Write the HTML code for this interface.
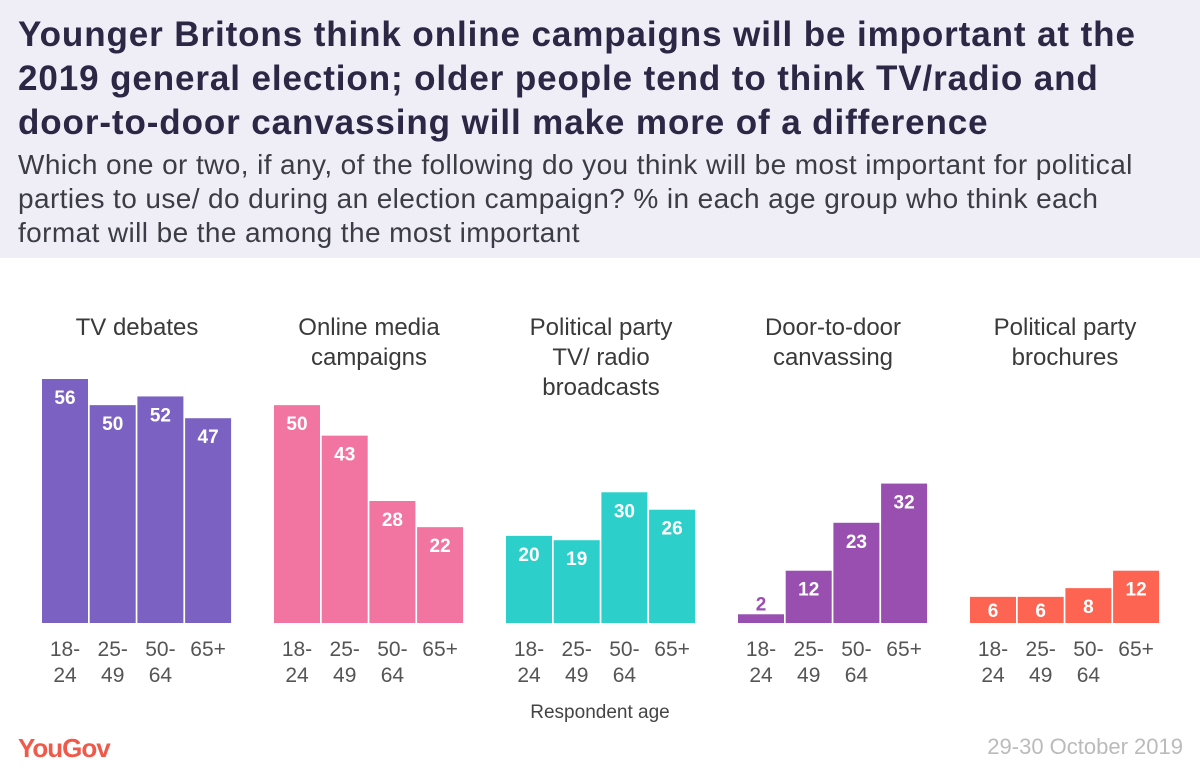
<!DOCTYPE html>
<html><head><meta charset="utf-8"><style>
body{margin:0;width:1200px;height:778px;background:#fff;font-family:"Liberation Sans",sans-serif;overflow:hidden}
#hdr{position:absolute;left:0;top:0;width:1200px;height:258px;background:#efedf6}
#title{position:absolute;left:18px;top:13px;font-size:35px;font-weight:bold;color:#2b2744;line-height:44px;letter-spacing:0.9px}
#sub{position:absolute;left:18px;top:148px;font-size:28px;color:#3c3c46;line-height:34px;letter-spacing:0.4px}
svg{position:absolute;left:0;top:0}
</style></head><body>
<div id="hdr"></div>
<div id="title">Younger Britons think online campaigns will be important at the<br>2019 general election; older people tend to think TV/radio and<br>door-to-door canvassing will make more of a difference</div>
<div id="sub">Which one or two, if any, of the following do you think will be most important for political<br>parties to use/ do during an election campaign? % in each age group who think each<br>format will be the among the most important</div>
<svg id="chart" width="1200" height="778"></svg>
<script>
const groups=[["TV debates"],["Online media","campaigns"],["Political party","TV/ radio","broadcasts"],["Door-to-door","canvassing"],["Political party","brochures"]];
const ages=[["18-","24"],["25-","49"],["50-","64"],["65+"]];
const tvDebates=[56,50,52,47];
const onlineMedia=[50,43,28,22];
const broadcasts=[20,19,30,26];
const canvassing=[2,12,23,32];
const brochures=[6,6,8,12];
const series=[tvDebates,onlineMedia,broadcasts,canvassing,brochures];
const colors=["#7b62c2","#f274a0","#2ccfca","#984fb0","#fd6552"];
const svg=document.getElementById('chart');const NS="http://www.w3.org/2000/svg";
const base=623,scale=244/56;
const y=v=>base-v*scale;
const gx=g=>42+g*232, bx=(g,i)=>gx(g)+i*47.7, bw=46;
function t(x,yy,s,attrs,name){const e=document.createElementNS(NS,'text');e.setAttribute('x',x);e.setAttribute('y',yy);for(const k in attrs)e.setAttribute(k,attrs[k]);e.textContent=s;


svg.appendChild(e);return e;}
series.forEach((vals,g)=>{
 const cx=gx(g)+95;
 groups[g].forEach((l,k)=>t(cx,335+k*30,l,{'text-anchor':'middle','font-size':'24','fill':'#3a3a3a'},'group-title'));
 vals.forEach((v,i)=>{
  const r=document.createElementNS(NS,'rect');const x=bx(g,i),top=y(v),h=base-top;
  r.setAttribute('x',x);r.setAttribute('y',top);r.setAttribute('width',bw);r.setAttribute('height',h);r.setAttribute('fill',colors[g]);
  
  
  svg.appendChild(r);
  let ly,fill='#fff';
  if(h>=34)ly=top+25;else if(h>=20)ly=top+h/2+7;else{ly=top-4;fill=colors[g];}
  t(x+bw/2,ly,v,{'text-anchor':'middle','font-size':'19','font-weight':'bold','fill':fill},'value-label');
  ages[i].forEach((a,k)=>t(x+bw/2,656+k*26,a,{'text-anchor':'middle','font-size':'21','fill':'#555'},'age-tick-label'));
 });
});
t(600,718,'Respondent age',{'text-anchor':'middle','font-size':'19','fill':'#444'},'x-axis-title');
t(18,757,'YouGov',{'font-size':'26','font-weight':'bold','fill':'#f05a4a','letter-spacing':'-1'},'yougov-logo');
t(1183,754,'29-30 October 2019',{'text-anchor':'end','font-size':'22','fill':'#bbb'},'date-label');
</script>
</body></html>
